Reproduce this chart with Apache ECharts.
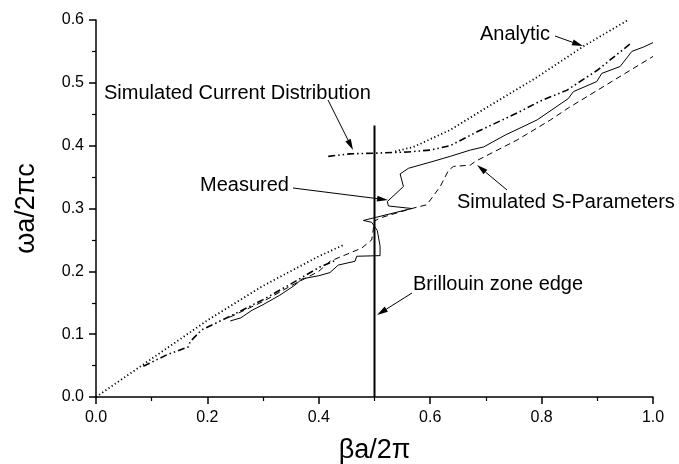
<!DOCTYPE html>
<html>
<head>
<meta charset="utf-8">
<script src="https://cdn.jsdelivr.net/npm/echarts@6/dist/echarts.min.js"></script>
<style>
  html, body { margin: 0; padding: 0; background: #fff; }
  #chart { width: 679px; height: 464px; }
</style>
</head>
<body>
<div id="chart"></div>
<script>
var chart = echarts.init(document.getElementById('chart'));

// dispersion curves: [beta a / 2pi, omega a / 2pi c]
let analyticLow = [[0, 0], [0.1, 0.061], [0.2, 0.122], [0.3, 0.177], [0.4, 0.224], [0.447, 0.243]];
let analyticHigh = [[0.537, 0.391], [0.57, 0.398], [0.636, 0.425], [0.70, 0.46], [0.79, 0.508],
    [0.875, 0.558], [0.955, 0.600]];
let currentLow = [[0.085, 0.049], [0.127, 0.067], [0.166, 0.080], [0.169, 0.088], [0.19, 0.107],
    [0.235, 0.126], [0.271, 0.142], [0.3, 0.155], [0.35, 0.18], [0.402, 0.207], [0.432, 0.218]];
let currentHigh = [[0.417, 0.383], [0.456, 0.387], [0.5, 0.388], [0.56, 0.39], [0.6, 0.393],
    [0.636, 0.4], [0.684, 0.422], [0.756, 0.452], [0.8, 0.472], [0.845, 0.488], [0.9, 0.52], [0.959, 0.562]];
let measured = [[0.241, 0.121], [0.26, 0.126], [0.28, 0.138], [0.3, 0.147], [0.33, 0.162],
    [0.357, 0.178], [0.37, 0.188], [0.4, 0.193], [0.42, 0.198], [0.435, 0.21], [0.465, 0.216],
    [0.468, 0.224], [0.51, 0.225], [0.51, 0.24], [0.505, 0.265], [0.495, 0.278], [0.48, 0.281],
    [0.567, 0.300], [0.525, 0.304], [0.523, 0.311], [0.552, 0.335], [0.546, 0.355], [0.561, 0.364],
    [0.605, 0.375], [0.636, 0.383], [0.672, 0.393], [0.696, 0.398], [0.735, 0.417], [0.792, 0.441],
    [0.848, 0.475], [0.857, 0.486], [0.899, 0.502], [0.908, 0.515], [0.941, 0.526], [0.962, 0.55],
    [0.983, 0.557], [1.0, 0.564]];
let sParams = [[0.24, 0.127], [0.3, 0.152], [0.348, 0.176], [0.4, 0.2], [0.42, 0.216],
    [0.477, 0.237], [0.495, 0.25], [0.498, 0.268], [0.5, 0.28], [0.51, 0.285], [0.567, 0.300],
    [0.594, 0.306], [0.618, 0.335], [0.633, 0.361], [0.642, 0.367], [0.672, 0.369], [0.681, 0.375],
    [0.756, 0.409], [0.816, 0.441], [0.848, 0.46], [1.0, 0.542]];
let zoneEdge = [[0.5, 0], [0.5, 0.432]];
let xTicks = [0, 0.2, 0.4, 0.6, 0.8, 1.0];
let yTicks = [0, 0.1, 0.2, 0.3, 0.4, 0.5, 0.6];

let font = 'Liberation Sans, Arial, sans-serif';

function curve(data, type, width) {
    return {
        type: 'line',
        data: data,
        showSymbol: false,
        symbol: 'none',
        silent: true,
        lineStyle: { color: '#000', width: width, type: type }
    };
}

// annotation arrow: straight shaft with a filled head at (x2, y2)
function arrow(x1, y1, x2, y2) {
    let a = Math.atan2(y2 - y1, x2 - x1);
    let len = 11, hw = 3;
    let bx = x2 - len * Math.cos(a), by = y2 - len * Math.sin(a);
    let px = -Math.sin(a) * hw, py = Math.cos(a) * hw;
    return [{
        type: 'line',
        shape: { x1: x1, y1: y1, x2: bx, y2: by },
        style: { stroke: '#000', lineWidth: 1 }
    }, {
        type: 'polygon',
        shape: { points: [[x2, y2], [bx + px, by + py], [bx - px, by - py]] },
        style: { fill: '#000' }
    }];
}

function label(text, x, y) {
    return {
        type: 'text',
        x: x,
        y: y,
        style: { text: text, font: '20px ' + font, fill: '#000', textVerticalAlign: 'middle' }
    };
}

let graphics = [
    label('Analytic', 480, 34),
    label('Simulated Current Distribution', 104, 93),
    label('Measured', 200, 185),
    label('Simulated S-Parameters', 457, 202),
    label('Brillouin zone edge', 413, 284)
].concat(arrow(555, 36, 583, 46))
 .concat(arrow(328, 100, 353, 150))
 .concat(arrow(293, 188, 388, 200))
 .concat(arrow(507, 190, 477, 165))
 .concat(arrow(412, 293, 377, 315));

let axisCommon = {
    axisLine: { show: true, onZero: false, lineStyle: { color: '#000', width: 1.5 } },
    axisTick: { show: true, inside: false, length: 7, lineStyle: { color: '#000', width: 1.5 } },
    minorTick: { show: true, splitNumber: 2, length: 4, lineStyle: { color: '#000', width: 1.2 } },
    splitLine: { show: false },
    nameLocation: 'middle',
    nameTextStyle: { color: '#000', fontSize: 27, fontFamily: font }
};

option = {
    backgroundColor: '#fff',
    animation: false,
    grid: { left: 96, right: 26, top: 20, bottom: 67, containLabel: false, outerBoundsMode: 'none' },
    xAxis: Object.assign({
        type: 'value',
        min: xTicks[0],
        max: xTicks[xTicks.length - 1],
        interval: 0.2,
        name: 'βa/2π',
        nameGap: 40,
        axisLabel: { color: '#000', fontSize: 16, fontFamily: font, margin: 13, formatter: v => v.toFixed(1) }
    }, axisCommon),
    yAxis: Object.assign({
        type: 'value',
        min: yTicks[0],
        max: yTicks[yTicks.length - 1],
        interval: 0.1,
        name: 'ωa/2πc',
        nameGap: 56,
        axisLabel: { color: '#000', fontSize: 16, fontFamily: font, margin: 12, formatter: v => v.toFixed(1) }
    }, axisCommon),
    graphic: graphics,
    series: [
        curve(analyticLow, [1.2, 2.6], 1.8),
        curve(analyticHigh, [1.2, 2.6], 1.8),
        curve(currentLow, [7, 3, 1.5, 3, 1.5, 3], 1.6),
        curve(currentHigh, [7, 3, 1.5, 3, 1.5, 3], 1.6),
        curve(measured, 'solid', 1),
        curve(sParams, [6, 4], 1),
        curve(zoneEdge, 'solid', 2)
    ]
};
chart.setOption(option);
</script>
</body>
</html>
